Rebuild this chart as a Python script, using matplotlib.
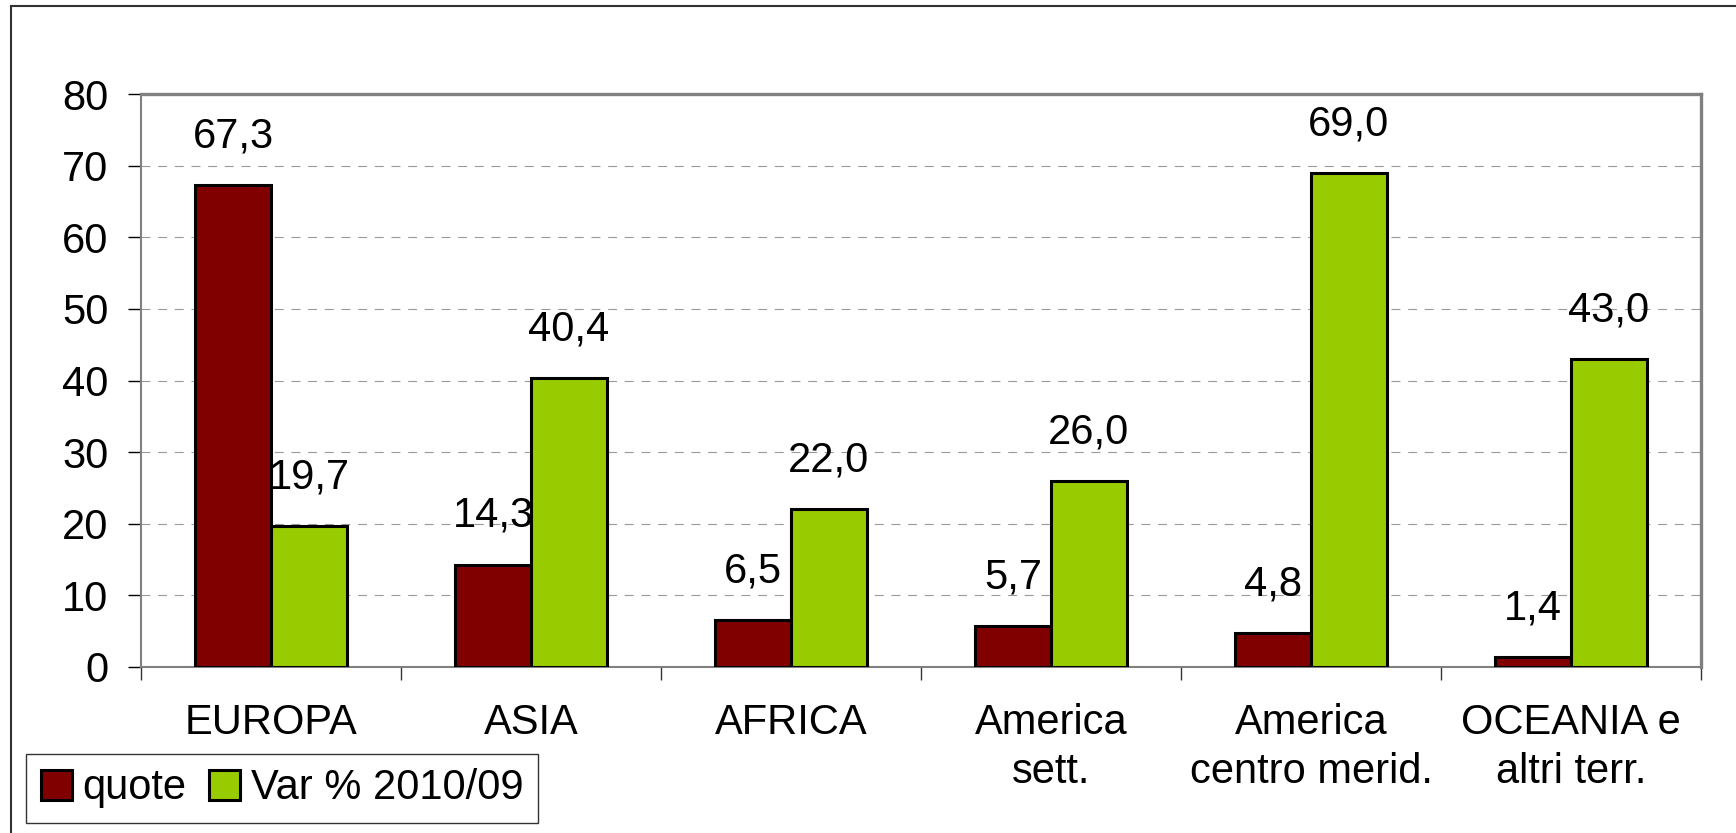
import matplotlib
matplotlib.use("Agg")
import matplotlib.pyplot as plt
from matplotlib.patches import Patch
from matplotlib.lines import Line2D
import numpy as np

categories = ["EUROPA", "ASIA", "AFRICA", "America\nsett.", "America\ncentro merid.", "OCEANIA e\naltri terr."]
quote = [67.3, 14.3, 6.5, 5.7, 4.8, 1.4]
var = [19.7, 40.4, 22.0, 26.0, 69.0, 43.0]
series_names = ["quote", "Var % 2010/09"]
yticks = [0, 10, 20, 30, 40, 50, 60, 70, 80]

plt.rcParams['font.family'] = ['Liberation Sans', 'DejaVu Sans']
FS = 30
W, H = 1736, 833
fig = plt.figure(figsize=(W / 100, H / 100), dpi=100)
ax = fig.add_axes([141 / W, 1 - 667 / H, (1701 - 141) / W, (667 - 94) / H])

red = "#800000"
green = "#99CC00"
x = np.arange(len(categories)) + 0.5
bw = 0.292
b1 = ax.bar(x - bw / 2, quote, bw, color=red, edgecolor="black", linewidth=2.2, zorder=3)
b2 = ax.bar(x + bw / 2, var, bw, color=green, edgecolor="black", linewidth=2.2, zorder=3)

def fmt(v):
    return f"{v:.1f}".replace(".", ",")

for bars, vals in ((b1, quote), (b2, var)):
    for r, v in zip(bars, vals):
        ax.annotate(fmt(v), (r.get_x() + r.get_width() / 2, v), xytext=(0, 35),
                    textcoords="offset points", ha="center", va="center", fontsize=FS, zorder=4)

ax.set_xlim(0, 6)
ax.set_ylim(0, 80)
ax.set_yticks(yticks)
ax.set_yticklabels([str(t) for t in yticks])
ax.yaxis.grid(True, color="#999999", linestyle=(0, (8, 7)), linewidth=0.8, zorder=0)
ax.set_axisbelow(True)

ax.set_xticks(np.arange(0, 7), minor=False)
ax.set_xticklabels([])
ax.set_xticks(x, minor=True)
ax.set_xticklabels(categories, minor=True, fontsize=FS, linespacing=1.3)
ax.tick_params(axis="x", which="major", direction="out", length=9.5, width=1, color="#333333")
ax.tick_params(axis="x", which="minor", length=0, pad=26)
ax.tick_params(axis="y", direction="out", length=9.5, width=1, color="black", labelsize=FS, pad=14)

for s in ("top", "right"):
    ax.spines[s].set_color("#808080")
    ax.spines[s].set_linewidth(2.4)
for s in ("left", "bottom"):
    ax.spines[s].set_color("#808080")
    ax.spines[s].set_linewidth(1.5)

handles = [Patch(facecolor=red, edgecolor="black", linewidth=2.2),
           Patch(facecolor=green, edgecolor="black", linewidth=2.2)]
leg = fig.legend(handles, series_names, loc="lower left",
                 bbox_to_anchor=(26 / W, 1 - 823 / H), ncol=2, fontsize=FS,
                 frameon=True, fancybox=False, handlelength=0.75, handleheight=0.75,
                 handletextpad=0.25, columnspacing=0.55, borderpad=0.35, borderaxespad=0)
leg.get_frame().set_edgecolor("black")
leg.get_frame().set_linewidth(1.0)

# outer frame (left and top)
fig.add_artist(Line2D([11 / W, 11 / W], [0, 1 - 6 / H], transform=fig.transFigure, color="#333333", lw=1.5))
fig.add_artist(Line2D([11 / W, 1], [1 - 6 / H, 1 - 6 / H], transform=fig.transFigure, color="#333333", lw=1.5))

fig.savefig("out.png", dpi=100)
